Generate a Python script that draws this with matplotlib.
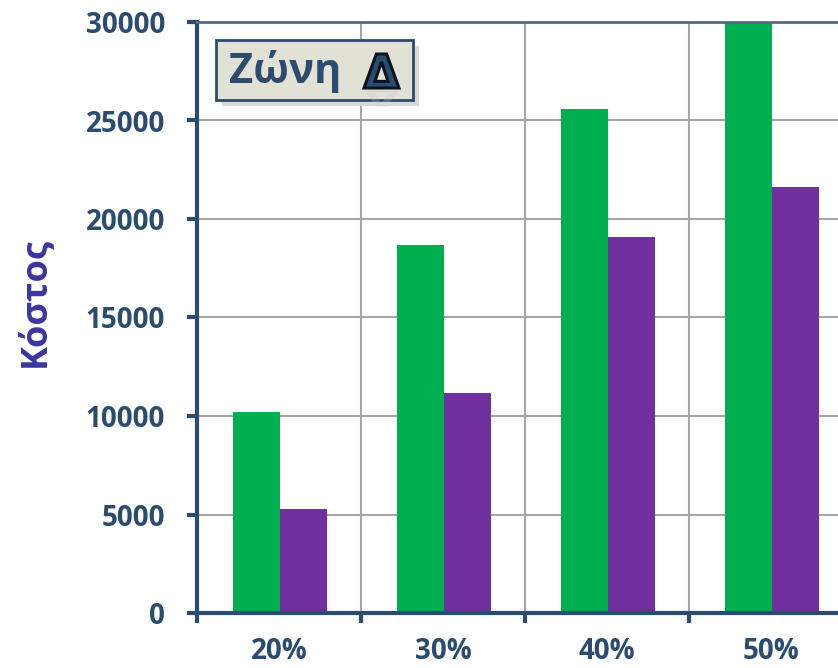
import numpy as np
import matplotlib.pyplot as plt
from matplotlib.patches import Rectangle, PathPatch
from matplotlib.textpath import TextPath
from matplotlib.font_manager import FontProperties
from matplotlib.transforms import Affine2D

# Κόστος ανά ποσοστό, Ζώνη Δ
categories = ['20%', '30%', '40%', '50%']
green_vals = [10200, 18700, 25600, 30000]
purple_vals = [5280, 11150, 19100, 21600]
y_ticks = [0, 5000, 10000, 15000, 20000, 25000, 30000]

W, H = 838, 668
navy = '#2B4C6E'
fnt = 'Open Sans'

fig = plt.figure(figsize=(W / 100, H / 100), dpi=100)
ax = fig.add_axes([197 / W, 55 / H, 656 / W, 591 / H])

x = np.arange(len(categories))
ax.bar(x - 0.28, green_vals, 0.286, align='edge', color='#00B050', zorder=2)
ax.bar(x + 0.006, purple_vals, 0.286, align='edge', color='#7030A0', zorder=2)

ax.set_xlim(-0.5, 3.5)
ax.set_ylim(0, 30000)
ax.set_xticks(x)
ax.set_xticklabels(categories)
ax.set_xticks(np.arange(-0.5, 4, 1), minor=True)
ax.set_yticks(y_ticks)

ax.set_axisbelow(True)
ax.yaxis.grid(True, color='#A6A6A6', lw=1.5)
ax.xaxis.grid(True, which='minor', color='#A6A6A6', lw=1.5)

for s in ['left', 'bottom']:
    ax.spines[s].set_color(navy)
    ax.spines[s].set_linewidth(3)
ax.spines['top'].set_color('#52698A')
ax.spines['top'].set_linewidth(2)
ax.spines['right'].set_visible(False)

ax.tick_params(axis='y', direction='out', length=7, width=3, color=navy,
               pad=16, labelsize=20, labelcolor=navy)
ax.tick_params(axis='x', which='major', length=0, pad=17, labelsize=20,
               labelcolor=navy)
ax.tick_params(axis='x', which='minor', direction='out', length=7, width=3,
               color=navy)
for lab in ax.get_xticklabels() + ax.get_yticklabels():
    lab.set_fontfamily(fnt)
    lab.set_fontweight('bold')

fig.text(35 / W, 1 - 302 / H, 'Κόστος', rotation=90, ha='center', va='center',
         fontsize=26, fontweight='bold', color='#3A35A0', family=fnt)

# πλαίσιο τίτλου με σκιά
def px(v):
    return v / W

def py(v):
    return 1 - v / H

fig.patches.append(Rectangle((px(222), py(106)), px(197), 60 / H,
                             transform=fig.transFigure, facecolor='#D9D9D9',
                             edgecolor='none', zorder=5))
fig.patches.append(Rectangle((px(216), py(100)), px(197), 60 / H,
                             transform=fig.transFigure, facecolor='#E1E2D5',
                             edgecolor=navy, lw=2, zorder=6))
fig.text(px(229), py(83), 'Ζώνη', ha='left', va='baseline', fontsize=30,
         fontweight='bold', color=navy, family=fnt, zorder=7)

# Δ με περίγραμμα και αχνή αντανάκλαση από κάτω
fp = FontProperties(family='DejaVu Sans', weight='bold')
tp = TextPath((0, 0), 'Δ', size=48, prop=fp)
bb = tp.get_extents()
to_px = Affine2D().translate(-bb.x0, -bb.y0).scale(35 / bb.width, 34 / bb.height)
glyph = to_px.transform_path(tp)
refl = PathPatch(glyph, facecolor='#C4CAD0', edgecolor='none', alpha=0.25,
                 transform=Affine2D().scale(1, -0.5).translate(364, H - 90),
                 zorder=7)
delta = PathPatch(glyph, facecolor=navy, edgecolor='#0A1420', lw=2.2,
                  transform=Affine2D().translate(364, H - 88), zorder=8)
fig.patches.extend([refl, delta])

fig.savefig('out.png', dpi=100)
